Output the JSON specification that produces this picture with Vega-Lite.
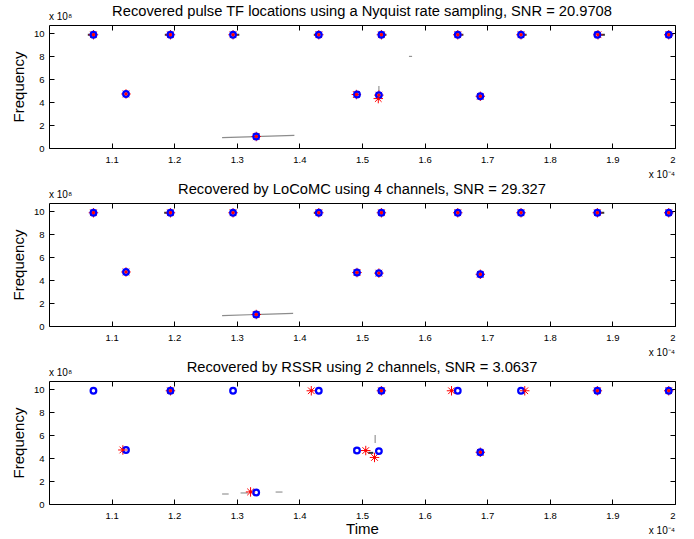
{
  "$schema": "https://vega.github.io/schema/vega-lite/v6.json",
  "background": "white",
  "padding": {"left": 10, "top": 3, "right": 5, "bottom": 2},
  "bounds": "flush",
  "spacing": 55,
  "datasets": {
    "pts": [
      {"panel": 1, "kind": "true", "t": 1.071, "f": 9.85},
      {"panel": 1, "kind": "true", "t": 1.123, "f": 4.7},
      {"panel": 1, "kind": "true", "t": 1.194, "f": 9.85},
      {"panel": 1, "kind": "true", "t": 1.294, "f": 9.85},
      {"panel": 1, "kind": "true", "t": 1.331, "f": 1.0},
      {"panel": 1, "kind": "true", "t": 1.431, "f": 9.85},
      {"panel": 1, "kind": "true", "t": 1.492, "f": 4.65},
      {"panel": 1, "kind": "true", "t": 1.527, "f": 4.6},
      {"panel": 1, "kind": "true", "t": 1.531, "f": 9.85},
      {"panel": 1, "kind": "true", "t": 1.653, "f": 9.85},
      {"panel": 1, "kind": "true", "t": 1.689, "f": 4.5},
      {"panel": 1, "kind": "true", "t": 1.754, "f": 9.85},
      {"panel": 1, "kind": "true", "t": 1.876, "f": 9.85},
      {"panel": 1, "kind": "true", "t": 1.99, "f": 9.85},
      {"panel": 1, "kind": "rec", "t": 1.071, "f": 9.85},
      {"panel": 1, "kind": "rec", "t": 1.123, "f": 4.7},
      {"panel": 1, "kind": "rec", "t": 1.194, "f": 9.85},
      {"panel": 1, "kind": "rec", "t": 1.294, "f": 9.85},
      {"panel": 1, "kind": "rec", "t": 1.331, "f": 1.0},
      {"panel": 1, "kind": "rec", "t": 1.431, "f": 9.85},
      {"panel": 1, "kind": "rec", "t": 1.491, "f": 4.65},
      {"panel": 1, "kind": "rec", "t": 1.527, "f": 4.6},
      {"panel": 1, "kind": "rec", "t": 1.526, "f": 4.3},
      {"panel": 1, "kind": "rec", "t": 1.531, "f": 9.85},
      {"panel": 1, "kind": "rec", "t": 1.653, "f": 9.85},
      {"panel": 1, "kind": "rec", "t": 1.689, "f": 4.5},
      {"panel": 1, "kind": "rec", "t": 1.754, "f": 9.85},
      {"panel": 1, "kind": "rec", "t": 1.877, "f": 9.85},
      {"panel": 1, "kind": "rec", "t": 1.99, "f": 9.85},
      {"panel": 2, "kind": "true", "t": 1.071, "f": 9.85},
      {"panel": 2, "kind": "true", "t": 1.123, "f": 4.7},
      {"panel": 2, "kind": "true", "t": 1.194, "f": 9.85},
      {"panel": 2, "kind": "true", "t": 1.294, "f": 9.85},
      {"panel": 2, "kind": "true", "t": 1.331, "f": 1.0},
      {"panel": 2, "kind": "true", "t": 1.431, "f": 9.85},
      {"panel": 2, "kind": "true", "t": 1.492, "f": 4.65},
      {"panel": 2, "kind": "true", "t": 1.527, "f": 4.6},
      {"panel": 2, "kind": "true", "t": 1.531, "f": 9.85},
      {"panel": 2, "kind": "true", "t": 1.653, "f": 9.85},
      {"panel": 2, "kind": "true", "t": 1.689, "f": 4.5},
      {"panel": 2, "kind": "true", "t": 1.754, "f": 9.85},
      {"panel": 2, "kind": "true", "t": 1.876, "f": 9.85},
      {"panel": 2, "kind": "true", "t": 1.99, "f": 9.85},
      {"panel": 2, "kind": "rec", "t": 1.071, "f": 9.85},
      {"panel": 2, "kind": "rec", "t": 1.123, "f": 4.7},
      {"panel": 2, "kind": "rec", "t": 1.194, "f": 9.85},
      {"panel": 2, "kind": "rec", "t": 1.294, "f": 9.85},
      {"panel": 2, "kind": "rec", "t": 1.331, "f": 1.0},
      {"panel": 2, "kind": "rec", "t": 1.431, "f": 9.85},
      {"panel": 2, "kind": "rec", "t": 1.492, "f": 4.65},
      {"panel": 2, "kind": "rec", "t": 1.527, "f": 4.6},
      {"panel": 2, "kind": "rec", "t": 1.531, "f": 9.85},
      {"panel": 2, "kind": "rec", "t": 1.653, "f": 9.85},
      {"panel": 2, "kind": "rec", "t": 1.689, "f": 4.5},
      {"panel": 2, "kind": "rec", "t": 1.754, "f": 9.85},
      {"panel": 2, "kind": "rec", "t": 1.876, "f": 9.85},
      {"panel": 2, "kind": "rec", "t": 1.99, "f": 9.85},
      {"panel": 3, "kind": "true", "t": 1.071, "f": 9.85},
      {"panel": 3, "kind": "true", "t": 1.123, "f": 4.7},
      {"panel": 3, "kind": "true", "t": 1.194, "f": 9.85},
      {"panel": 3, "kind": "true", "t": 1.294, "f": 9.85},
      {"panel": 3, "kind": "true", "t": 1.331, "f": 1.0},
      {"panel": 3, "kind": "true", "t": 1.431, "f": 9.85},
      {"panel": 3, "kind": "true", "t": 1.492, "f": 4.65},
      {"panel": 3, "kind": "true", "t": 1.527, "f": 4.6},
      {"panel": 3, "kind": "true", "t": 1.531, "f": 9.85},
      {"panel": 3, "kind": "true", "t": 1.653, "f": 9.85},
      {"panel": 3, "kind": "true", "t": 1.689, "f": 4.5},
      {"panel": 3, "kind": "true", "t": 1.754, "f": 9.85},
      {"panel": 3, "kind": "true", "t": 1.876, "f": 9.85},
      {"panel": 3, "kind": "true", "t": 1.99, "f": 9.85},
      {"panel": 3, "kind": "rec", "t": 1.118, "f": 4.7},
      {"panel": 3, "kind": "rec", "t": 1.194, "f": 9.85},
      {"panel": 3, "kind": "rec", "t": 1.322, "f": 1.05},
      {"panel": 3, "kind": "rec", "t": 1.419, "f": 9.85},
      {"panel": 3, "kind": "rec", "t": 1.506, "f": 4.65},
      {"panel": 3, "kind": "rec", "t": 1.52, "f": 4.05},
      {"panel": 3, "kind": "rec", "t": 1.531, "f": 9.85},
      {"panel": 3, "kind": "rec", "t": 1.643, "f": 9.85},
      {"panel": 3, "kind": "rec", "t": 1.689, "f": 4.5},
      {"panel": 3, "kind": "rec", "t": 1.76, "f": 9.85},
      {"panel": 3, "kind": "rec", "t": 1.876, "f": 9.85},
      {"panel": 3, "kind": "rec", "t": 1.99, "f": 9.85}
    ],
    "segs": [
      {"panel": 1, "kind": "spread", "t": 1.2765, "t2": 1.392, "f": 0.9, "f2": 1.1},
      {"panel": 1, "kind": "spread", "t": 1.575, "t2": 1.58, "f": 7.97, "f2": 7.97},
      {"panel": 1, "kind": "spread", "t": 1.527, "t2": 1.527, "f": 4.9, "f2": 5.4},
      {"panel": 1, "kind": "blob", "t": 1.062, "t2": 1.069, "f": 9.85, "f2": 9.85},
      {"panel": 1, "kind": "blob", "t": 1.185, "t2": 1.191, "f": 9.85, "f2": 9.85},
      {"panel": 1, "kind": "blob", "t": 1.298, "t2": 1.304, "f": 9.85, "f2": 9.85},
      {"panel": 1, "kind": "blob", "t": 1.423, "t2": 1.428, "f": 9.85, "f2": 9.85},
      {"panel": 1, "kind": "blob", "t": 1.534, "t2": 1.539, "f": 9.85, "f2": 9.85},
      {"panel": 1, "kind": "blob", "t": 1.656, "t2": 1.662, "f": 9.85, "f2": 9.85},
      {"panel": 1, "kind": "blob", "t": 1.757, "t2": 1.763, "f": 9.85, "f2": 9.85},
      {"panel": 1, "kind": "blob", "t": 1.88, "t2": 1.888, "f": 9.85, "f2": 9.85},
      {"panel": 1, "kind": "blob", "t": 1.992, "t2": 1.996, "f": 9.85, "f2": 9.85},
      {"panel": 2, "kind": "spread", "t": 1.2765, "t2": 1.39, "f": 0.9, "f2": 1.1},
      {"panel": 2, "kind": "blob", "t": 1.184, "t2": 1.19, "f": 9.85, "f2": 9.85},
      {"panel": 2, "kind": "blob", "t": 1.423, "t2": 1.428, "f": 9.85, "f2": 9.85},
      {"panel": 2, "kind": "blob", "t": 1.88, "t2": 1.887, "f": 9.85, "f2": 9.85},
      {"panel": 2, "kind": "blob", "t": 1.992, "t2": 1.996, "f": 9.85, "f2": 9.85},
      {"panel": 3, "kind": "spread", "t": 1.2765, "t2": 1.287, "f": 0.87, "f2": 0.87},
      {"panel": 3, "kind": "spread", "t": 1.306, "t2": 1.318, "f": 0.96, "f2": 0.96},
      {"panel": 3, "kind": "spread", "t": 1.362, "t2": 1.373, "f": 1.04, "f2": 1.04},
      {"panel": 3, "kind": "spread", "t": 1.521, "t2": 1.521, "f": 5.3, "f2": 6.0},
      {"panel": 3, "kind": "spread", "t": 1.487, "t2": 1.487, "f": 4.4, "f2": 4.9},
      {"panel": 3, "kind": "blob", "t": 1.51, "t2": 1.518, "f": 4.45, "f2": 4.45}
    ],
    "one": [{}]
  },
  "config": {
    "font": "Liberation Sans",
    "view": {"stroke": "#000000", "strokeWidth": 1},
    "title": {"font": "Liberation Sans", "fontSize": 14.7, "fontWeight": "normal", "color": "#000000", "anchor": "middle", "offset": -6.5},
    "axis": {
      "grid": false, "domain": false,
      "labelFont": "Liberation Sans", "labelFontSize": 9.5, "labelColor": "#000000",
      "tickColor": "#000000", "tickSize": -5, "tickWidth": 1,
      "titleFont": "Liberation Sans", "titleFontSize": 15, "titleFontWeight": "normal", "titleColor": "#000000"
    }
  },
  "vconcat": [
    {
      "title": "Recovered pulse TF locations using a Nyquist rate sampling, SNR = 20.9708",
      "width": 626, "height": 123,
      "resolve": {"axis": {"x": "independent", "y": "independent"}},
      "layer": [
        {
          "data": {"name": "segs"},
          "transform": [{"filter": "datum.panel === 1"}],
          "mark": {"type": "rule"},
          "encoding": {
            "x": {"field": "t", "type": "quantitative", "scale": {"domain": [1.0, 2.0], "nice": false, "zero": false}, "axis": null},
            "x2": {"field": "t2"},
            "y": {"field": "f", "type": "quantitative", "scale": {"domain": [0, 10.7], "nice": false, "zero": false}, "axis": null},
            "y2": {"field": "f2"},
            "color": {"field": "kind", "type": "nominal", "scale": {"domain": ["spread", "blob"], "range": ["#8c8c8c", "#333333"]}, "legend": null},
            "strokeWidth": {"field": "kind", "type": "nominal", "scale": {"domain": ["spread", "blob"], "range": [1.1, 2]}, "legend": null}
          }
        },
        {
          "data": {"name": "pts"},
          "transform": [{"filter": "datum.panel === 1 && datum.kind === 'rec'"}],
          "mark": {"type": "point", "shape": "M-1,0L1,0M0,-1L0,1M-0.7,-0.7L0.7,0.7M-0.7,0.7L0.7,-0.7", "filled": false, "stroke": "#ff0000", "strokeWidth": 1, "size": 90, "opacity": 1},
          "encoding": {
            "x": {"field": "t", "type": "quantitative", "axis": null},
            "y": {"field": "f", "type": "quantitative", "axis": null}
          }
        },
        {
          "data": {"name": "pts"},
          "transform": [{"filter": "datum.panel === 1 && datum.kind === 'true'"}],
          "mark": {"type": "point", "shape": "circle", "filled": false, "stroke": "#0000ff", "strokeWidth": 2.2, "size": 32, "opacity": 1},
          "encoding": {
            "x": {"field": "t", "type": "quantitative", "axis": {"orient": "bottom", "values": [1.1, 1.2, 1.3, 1.4, 1.5, 1.6, 1.7, 1.8, 1.9, 2.0], "format": ".1~f", "labelPadding": 11, "title": null}},
            "y": {"field": "f", "type": "quantitative", "axis": {"orient": "left", "values": [0, 2, 4, 6, 8, 10], "labelPadding": 10, "title": "Frequency", "titlePadding": 7}}
          }
        },
        {
          "data": {"name": "pts"},
          "transform": [{"filter": "datum.panel === 1 && datum.kind === 'rec'"}],
          "mark": {"type": "point", "shape": "circle", "filled": true, "fill": "#ff0000", "size": 8, "opacity": 1},
          "encoding": {
            "x": {"field": "t", "type": "quantitative", "axis": null},
            "y": {"field": "f", "type": "quantitative", "axis": null}
          }
        },
        {
          "data": {"name": "one"},
          "mark": {"type": "text", "text": "x 10⁻⁴", "align": "right", "baseline": "alphabetic", "dy": 30, "fontSize": 10, "color": "#000000"},
          "encoding": {
            "x": {"datum": 2.0, "type": "quantitative", "axis": null},
            "y": {"datum": 0, "type": "quantitative", "axis": null}
          }
        },
        {
          "data": {"name": "one"},
          "mark": {"type": "text", "text": "x 10⁸", "align": "left", "baseline": "alphabetic", "dy": -5, "fontSize": 10, "color": "#000000"},
          "encoding": {
            "x": {"datum": 1.0, "type": "quantitative", "axis": {"orient": "top", "values": [1.1, 1.2, 1.3, 1.4, 1.5, 1.6, 1.7, 1.8, 1.9, 2.0], "labels": false, "title": null}},
            "y": {"datum": 10.7, "type": "quantitative", "axis": {"orient": "right", "values": [0, 2, 4, 6, 8, 10], "labels": false, "title": null}}
          }
        }
      ]
    },
    {
      "title": "Recovered by LoCoMC using 4 channels, SNR = 29.327",
      "width": 626, "height": 123,
      "resolve": {"axis": {"x": "independent", "y": "independent"}},
      "layer": [
        {
          "data": {"name": "segs"},
          "transform": [{"filter": "datum.panel === 2"}],
          "mark": {"type": "rule"},
          "encoding": {
            "x": {"field": "t", "type": "quantitative", "scale": {"domain": [1.0, 2.0], "nice": false, "zero": false}, "axis": null},
            "x2": {"field": "t2"},
            "y": {"field": "f", "type": "quantitative", "scale": {"domain": [0, 10.7], "nice": false, "zero": false}, "axis": null},
            "y2": {"field": "f2"},
            "color": {"field": "kind", "type": "nominal", "scale": {"domain": ["spread", "blob"], "range": ["#8c8c8c", "#333333"]}, "legend": null},
            "strokeWidth": {"field": "kind", "type": "nominal", "scale": {"domain": ["spread", "blob"], "range": [1.1, 2]}, "legend": null}
          }
        },
        {
          "data": {"name": "pts"},
          "transform": [{"filter": "datum.panel === 2 && datum.kind === 'rec'"}],
          "mark": {"type": "point", "shape": "M-1,0L1,0M0,-1L0,1M-0.7,-0.7L0.7,0.7M-0.7,0.7L0.7,-0.7", "filled": false, "stroke": "#ff0000", "strokeWidth": 1, "size": 90, "opacity": 1},
          "encoding": {
            "x": {"field": "t", "type": "quantitative", "axis": null},
            "y": {"field": "f", "type": "quantitative", "axis": null}
          }
        },
        {
          "data": {"name": "pts"},
          "transform": [{"filter": "datum.panel === 2 && datum.kind === 'true'"}],
          "mark": {"type": "point", "shape": "circle", "filled": false, "stroke": "#0000ff", "strokeWidth": 2.2, "size": 32, "opacity": 1},
          "encoding": {
            "x": {"field": "t", "type": "quantitative", "axis": {"orient": "bottom", "values": [1.1, 1.2, 1.3, 1.4, 1.5, 1.6, 1.7, 1.8, 1.9, 2.0], "format": ".1~f", "labelPadding": 11, "title": null}},
            "y": {"field": "f", "type": "quantitative", "axis": {"orient": "left", "values": [0, 2, 4, 6, 8, 10], "labelPadding": 10, "title": "Frequency", "titlePadding": 7}}
          }
        },
        {
          "data": {"name": "pts"},
          "transform": [{"filter": "datum.panel === 2 && datum.kind === 'rec'"}],
          "mark": {"type": "point", "shape": "circle", "filled": true, "fill": "#ff0000", "size": 8, "opacity": 1},
          "encoding": {
            "x": {"field": "t", "type": "quantitative", "axis": null},
            "y": {"field": "f", "type": "quantitative", "axis": null}
          }
        },
        {
          "data": {"name": "one"},
          "mark": {"type": "text", "text": "x 10⁻⁴", "align": "right", "baseline": "alphabetic", "dy": 30, "fontSize": 10, "color": "#000000"},
          "encoding": {
            "x": {"datum": 2.0, "type": "quantitative", "axis": null},
            "y": {"datum": 0, "type": "quantitative", "axis": null}
          }
        },
        {
          "data": {"name": "one"},
          "mark": {"type": "text", "text": "x 10⁸", "align": "left", "baseline": "alphabetic", "dy": -5, "fontSize": 10, "color": "#000000"},
          "encoding": {
            "x": {"datum": 1.0, "type": "quantitative", "axis": {"orient": "top", "values": [1.1, 1.2, 1.3, 1.4, 1.5, 1.6, 1.7, 1.8, 1.9, 2.0], "labels": false, "title": null}},
            "y": {"datum": 10.7, "type": "quantitative", "axis": {"orient": "right", "values": [0, 2, 4, 6, 8, 10], "labels": false, "title": null}}
          }
        }
      ]
    },
    {
      "title": "Recovered by RSSR using 2 channels, SNR = 3.0637",
      "width": 626, "height": 123,
      "resolve": {"axis": {"x": "independent", "y": "independent"}},
      "layer": [
        {
          "data": {"name": "segs"},
          "transform": [{"filter": "datum.panel === 3"}],
          "mark": {"type": "rule"},
          "encoding": {
            "x": {"field": "t", "type": "quantitative", "scale": {"domain": [1.0, 2.0], "nice": false, "zero": false}, "axis": null},
            "x2": {"field": "t2"},
            "y": {"field": "f", "type": "quantitative", "scale": {"domain": [0, 10.7], "nice": false, "zero": false}, "axis": null},
            "y2": {"field": "f2"},
            "color": {"field": "kind", "type": "nominal", "scale": {"domain": ["spread", "blob"], "range": ["#8c8c8c", "#333333"]}, "legend": null},
            "strokeWidth": {"field": "kind", "type": "nominal", "scale": {"domain": ["spread", "blob"], "range": [1.1, 2]}, "legend": null}
          }
        },
        {
          "data": {"name": "pts"},
          "transform": [{"filter": "datum.panel === 3 && datum.kind === 'rec'"}],
          "mark": {"type": "point", "shape": "M-1,0L1,0M0,-1L0,1M-0.7,-0.7L0.7,0.7M-0.7,0.7L0.7,-0.7", "filled": false, "stroke": "#ff0000", "strokeWidth": 1, "size": 90, "opacity": 1},
          "encoding": {
            "x": {"field": "t", "type": "quantitative", "axis": null},
            "y": {"field": "f", "type": "quantitative", "axis": null}
          }
        },
        {
          "data": {"name": "pts"},
          "transform": [{"filter": "datum.panel === 3 && datum.kind === 'true'"}],
          "mark": {"type": "point", "shape": "circle", "filled": false, "stroke": "#0000ff", "strokeWidth": 2.2, "size": 32, "opacity": 1},
          "encoding": {
            "x": {"field": "t", "type": "quantitative", "axis": {"orient": "bottom", "values": [1.1, 1.2, 1.3, 1.4, 1.5, 1.6, 1.7, 1.8, 1.9, 2.0], "format": ".1~f", "labelPadding": 11, "title": "Time", "titlePadding": 1.5}},
            "y": {"field": "f", "type": "quantitative", "axis": {"orient": "left", "values": [0, 2, 4, 6, 8, 10], "labelPadding": 10, "title": "Frequency", "titlePadding": 7}}
          }
        },
        {
          "data": {"name": "pts"},
          "transform": [{"filter": "datum.panel === 3 && datum.kind === 'rec'"}],
          "mark": {"type": "point", "shape": "circle", "filled": true, "fill": "#ff0000", "size": 8, "opacity": 1},
          "encoding": {
            "x": {"field": "t", "type": "quantitative", "axis": null},
            "y": {"field": "f", "type": "quantitative", "axis": null}
          }
        },
        {
          "data": {"name": "one"},
          "mark": {"type": "text", "text": "x 10⁻⁴", "align": "right", "baseline": "alphabetic", "dy": 30, "fontSize": 10, "color": "#000000"},
          "encoding": {
            "x": {"datum": 2.0, "type": "quantitative", "axis": null},
            "y": {"datum": 0, "type": "quantitative", "axis": null}
          }
        },
        {
          "data": {"name": "one"},
          "mark": {"type": "text", "text": "x 10⁸", "align": "left", "baseline": "alphabetic", "dy": -5, "fontSize": 10, "color": "#000000"},
          "encoding": {
            "x": {"datum": 1.0, "type": "quantitative", "axis": {"orient": "top", "values": [1.1, 1.2, 1.3, 1.4, 1.5, 1.6, 1.7, 1.8, 1.9, 2.0], "labels": false, "title": null}},
            "y": {"datum": 10.7, "type": "quantitative", "axis": {"orient": "right", "values": [0, 2, 4, 6, 8, 10], "labels": false, "title": null}}
          }
        }
      ]
    }
  ]
}
